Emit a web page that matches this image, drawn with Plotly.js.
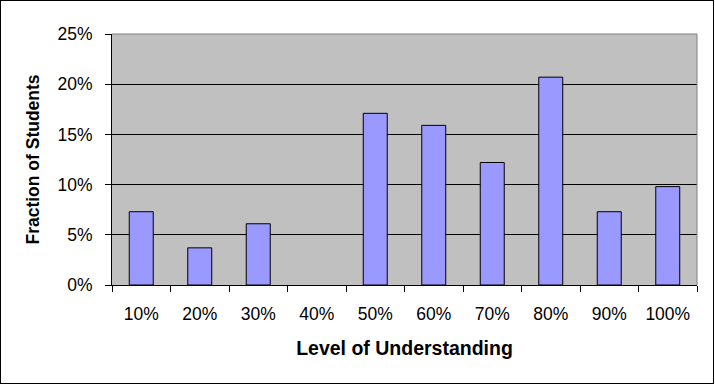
<!DOCTYPE html>
<html>
<head>
<meta charset="utf-8">
<script src="https://cdn.plot.ly/plotly-3.0.1.min.js"></script>
<style>
  html, body { margin: 0; padding: 0; background: #ffffff; }
  #wrap { position: relative; width: 715px; height: 385px; }
  #chart { position: absolute; left: 0; top: 0; width: 715px; height: 385px; }
  #frame { position: absolute; left: 0; top: 0; width: 712px; height: 382px; border: 1px solid #000; pointer-events: none; }
</style>
</head>
<body>
<div id="wrap">
  <div id="chart"></div>
  <div id="frame"></div>
</div>
<script>
// Data
const categories = ["10%", "20%", "30%", "40%", "50%", "60%", "70%", "80%", "90%", "100%"];
const fractions = [0.073, 0.037, 0.061, 0, 0.171, 0.159, 0.122, 0.207, 0.073, 0.098];
const yTickValues = [0, 0.05, 0.10, 0.15, 0.20, 0.25];
const xTitle = "Level of Understanding";
const yTitle = "Fraction of Students";

const fontFamily = "'Liberation Sans', Arial, sans-serif";

const trace = {
  type: "bar",
  x: categories,
  y: fractions,
  marker: {
    color: "#9999FF",
    line: { color: "#000000", width: fractions.map(v => (v > 0 ? 1 : 0)) }
  },
  hoverinfo: "x+y"
};

const layout = {
  width: 715,
  height: 385,
  margin: { l: 112, r: 18, t: 34, b: 100, pad: 0 },
  paper_bgcolor: "#ffffff",
  plot_bgcolor: "#C0C0C0",
  showlegend: false,
  bargap: 0.59,
  font: { family: fontFamily, color: "#000000", size: 17 },
  xaxis: {
    type: "category",
    showline: true,
    linecolor: "#000000",
    linewidth: 1,
    ticks: "outside",
    tickson: "boundaries",
    ticklen: 6,
    tickcolor: "#000000",
    tickwidth: 1,
    showgrid: false,
    tickfont: { family: fontFamily, size: 17.5, color: "#000000" },
    ticklabelstandoff: 13,
    automargin: false,
    title: { text: xTitle, font: { family: fontFamily, size: 19.5, color: "#000000", weight: "bold" }, standoff: 18 }
  },
  yaxis: {
    range: [0, 0.25],
    tickvals: yTickValues,
    tickformat: ".0%",
    showline: true,
    linecolor: "#000000",
    linewidth: 1,
    ticks: "outside",
    ticklen: 6,
    tickcolor: "#000000",
    tickwidth: 1,
    showgrid: true,
    gridcolor: "#000000",
    gridwidth: 1,
    zeroline: false,
    tickfont: { family: fontFamily, size: 17.5, color: "#000000" },
    ticklabelstandoff: 9,
    automargin: false,
    title: { text: yTitle, font: { family: fontFamily, size: 17.5, color: "#000000", weight: "bold" }, standoff: 13 }
  },
  shapes: [
    { type: "line", xref: "paper", yref: "paper", x0: 0, x1: 1, y0: 1, y1: 1, line: { color: "#808080", width: 1 }, layer: "above" },
    { type: "line", xref: "paper", yref: "paper", x0: 1, x1: 1, y0: 0, y1: 1, line: { color: "#808080", width: 1 }, layer: "above" }
  ]
};

Plotly.newPlot("chart", [trace], layout, { displayModeBar: false, staticPlot: true });
</script>
</body>
</html>
